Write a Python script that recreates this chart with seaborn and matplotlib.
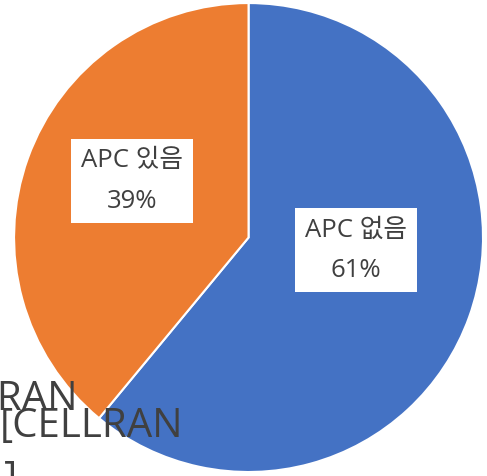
import seaborn as sns
import matplotlib.pyplot as plt

labels = ['APC 없음', 'APC 있음']
shares = [61, 39]
colors = ['#4472C4', '#ED7D31']

sns.set_theme(style='white')
plt.rcParams['font.family'] = ['Open Sans', 'Noto Sans CJK KR', 'DejaVu Sans']

W, H = 487, 476
fig = plt.figure(figsize=(W / 100, H / 100), dpi=100)
ax = fig.add_axes([0, 0, 1, 1])

ax.pie(shares, colors=colors, startangle=90, counterclock=False,
       wedgeprops=dict(edgecolor='white', linewidth=1.5))

# label boxes
label_pos = [(0.458, -0.053), (-0.497, 0.241)]
for lab, val, (x, y) in zip(labels, shares, label_pos):
    ax.text(x, y, f'{lab}\n{val}%', ha='center', va='center', fontsize=18.5,
            color='#404040', linespacing=1.8,
            bbox=dict(boxstyle='square,pad=0.38', fc='white', ec='none'))

ax.set_xlim(-1.060, 1.017)
ax.set_ylim(-1.017, 1.013)
ax.set_aspect('equal')
ax.axis('off')

# leftover [CELLRANGE] placeholders overlapping at the bottom left
def px(x, y):
    return x / W, 1 - y / H

for x0, y0 in [(-105, 410), (0, 437)]:
    fig.text(*px(x0, y0), '[CELLRAN', fontsize=29, color='#404040',
             ha='left', va='baseline')
fig.text(*px(4, 490), ']', fontsize=29, color='#404040',
         ha='left', va='baseline')

fig.savefig('out.png', dpi=100)
